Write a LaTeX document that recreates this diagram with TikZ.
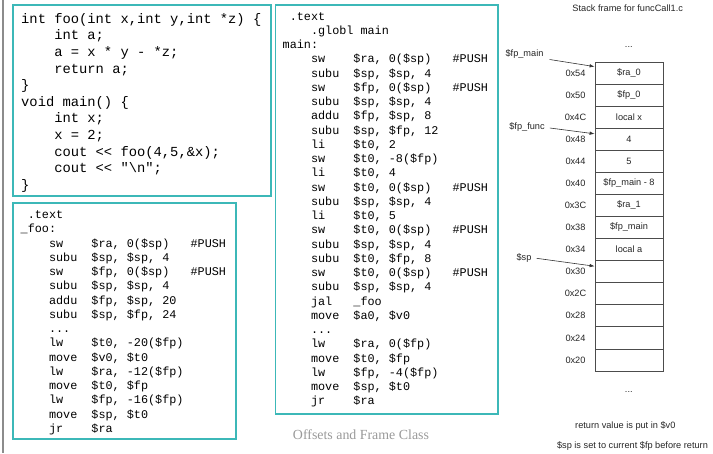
\documentclass[tikz,border=0pt]{standalone}
\usepackage{fontspec}
\setmonofont{Liberation Mono}
\setsansfont{Liberation Sans}
\newfontfamily\capfont{Liberation Serif}
\usetikzlibrary{arrows.meta}

\definecolor{boxteal}{RGB}{60,184,184}

% one instruction line: mnemonic column, operands
\newcommand{\op}[2]{\hspace*{2.4em}\makebox[3.6em][l]{#1}#2}
\newcommand{\pushop}[2]{\hspace*{2.4em}\makebox[3.6em][l]{#1}\makebox[8.4em][l]{#2}\#PUSH}

\tikzset{
  codebox/.style={draw=boxteal, line width=1.6pt},
  ccode/.style={anchor=north west, inner sep=0pt, align=left,
    font=\ttfamily\fontsize{13.8}{16.6}\selectfont},
  asm/.style={anchor=north west, inner sep=0pt, align=left,
    font=\ttfamily\fontsize{11.8}{14.25}\selectfont},
  small/.style={inner sep=1pt, text=black!85,
    font=\sffamily\fontsize{9.2}{11}\selectfont},
  slot/.style={small, draw=black!70, line width=0.8pt,
    minimum width=68pt, minimum height=22.07pt, inner sep=0pt},
  ptr/.style={-{Latex[length=5pt,width=3.5pt]}, black!80, line width=0.6pt}
}

\begin{document}
\begin{tikzpicture}[x=1pt,y=-1pt]

% Parameters
\def\rowtop{62}    % top of the stack frame
\def\rowh{22.07}   % height of one slot
\def\colx{629}     % centre of the slots

\useasboundingbox (0,0) rectangle (713,453);

% Page edge
\draw[black!45, line width=1.5pt] (3,0) -- (3,453);

% Code boxes
\draw[codebox] (13,5) rectangle (271,196);
\draw[codebox] (13,203) rectangle (236,439);
\draw[codebox] (275.5,5) rectangle (498,414);

% C source
\node[ccode] (csrc) at (21,9.2) {\rule{0pt}{1em}int foo(int x,int y,int *z) \{\\
\hspace*{2.4em}int a;\\
\hspace*{2.4em}a = x * y - *z;\\
\hspace*{2.4em}return a;\\
\}\\
void main() \{\\
\hspace*{2.4em}int x;\\
\hspace*{2.4em}x = 2;\\
\hspace*{2.4em}cout << foo(4,5,\&x);\\
\hspace*{2.4em}cout << "\textbackslash n";\\
\}};

% Assembly of foo
\node[asm] (foosrc) at (20.5,206.7) {\rule{0pt}{1em}\hspace*{0.6em}.text\\
\_foo:\\
\pushop{sw}{\$ra, 0(\$sp)}\\
\op{subu}{\$sp, \$sp, 4}\\
\pushop{sw}{\$fp, 0(\$sp)}\\
\op{subu}{\$sp, \$sp, 4}\\
\op{addu}{\$fp, \$sp, 20}\\
\op{subu}{\$sp, \$fp, 24}\\
\hspace*{2.4em}...\\
\op{lw}{\$t0, -20(\$fp)}\\
\op{move}{\$v0, \$t0}\\
\op{lw}{\$ra, -12(\$fp)}\\
\op{move}{\$t0, \$fp}\\
\op{lw}{\$fp, -16(\$fp)}\\
\op{move}{\$sp, \$t0}\\
\op{jr}{\$ra}};

% Assembly of main
\node[asm] (mainsrc) at (282.5,8.2) {\rule{0pt}{1em}\hspace*{0.6em}.text\\
\hspace*{2.4em}.globl main\\
main:\\
\pushop{sw}{\$ra, 0(\$sp)}\\
\op{subu}{\$sp, \$sp, 4}\\
\pushop{sw}{\$fp, 0(\$sp)}\\
\op{subu}{\$sp, \$sp, 4}\\
\op{addu}{\$fp, \$sp, 8}\\
\op{subu}{\$sp, \$fp, 12}\\
\op{li}{\$t0, 2}\\
\op{sw}{\$t0, -8(\$fp)}\\
\op{li}{\$t0, 4}\\
\pushop{sw}{\$t0, 0(\$sp)}\\
\op{subu}{\$sp, \$sp, 4}\\
\op{li}{\$t0, 5}\\
\pushop{sw}{\$t0, 0(\$sp)}\\
\op{subu}{\$sp, \$sp, 4}\\
\op{subu}{\$t0, \$fp, 8}\\
\pushop{sw}{\$t0, 0(\$sp)}\\
\op{subu}{\$sp, \$sp, 4}\\
\op{jal}{\_foo}\\
\op{move}{\$a0, \$v0}\\
\hspace*{2.4em}...\\
\op{lw}{\$ra, 0(\$fp)}\\
\op{move}{\$t0, \$fp}\\
\op{lw}{\$fp, -4(\$fp)}\\
\op{move}{\$sp, \$t0}\\
\op{jr}{\$ra}};

\node[text=black!40, font=\capfont\fontsize{13.9}{16}\selectfont]
  (caption) at (361,435) {Offsets and Frame Class};

% Stack frame
\node[small] (title) at (627.7,8.3) {Stack frame for funcCall1.c};
\node[small] (dtop) at (628.8,47) {...};

\foreach \adr/\val [count=\i] in {54/\$ra\_0, 50/\$fp\_0, 4C/local x, 48/4,
    44/5, 40/\$fp\_main - 8, 3C/\$ra\_1, 38/\$fp\_main, 34/local a,
    30/{}, 2C/{}, 28/{}, 24/{}, 20/{}} {
  \node[slot] (s\adr) at (\colx,{\rowtop+(\i-0.5)*\rowh}) {\val};
  \node[small] (a\adr) at (575.5,{\rowtop+(\i-0.5)*\rowh}) {0x\adr};
}

\node[small] (dbot) at (628.8,392) {...};

% Pointers into the frame
\node[small] (fpm) at (524.5,54.5) {\$fp\_main};
\node[small] (fpf) at (527,127) {\$fp\_func};
\node[small] (spp) at (524,258.3) {\$sp};
\draw[ptr] ([xshift=5pt,yshift=-5pt]fpm.east) -- ([yshift=-5pt]s54.north west);
\draw[ptr] ([xshift=4pt,yshift=-1pt]fpf.east) -- ([yshift=-6pt]s48.north west);
\draw[ptr] ([xshift=4pt]spp.east) -- ([yshift=-6pt]s30.north west);

% Notes
\node[small] (ret) at (625.3,426) {return value is put in \$v0};
\node[small] (note) at (632.5,446) {\$sp is set to current \$fp before return};

\end{tikzpicture}
\end{document}
